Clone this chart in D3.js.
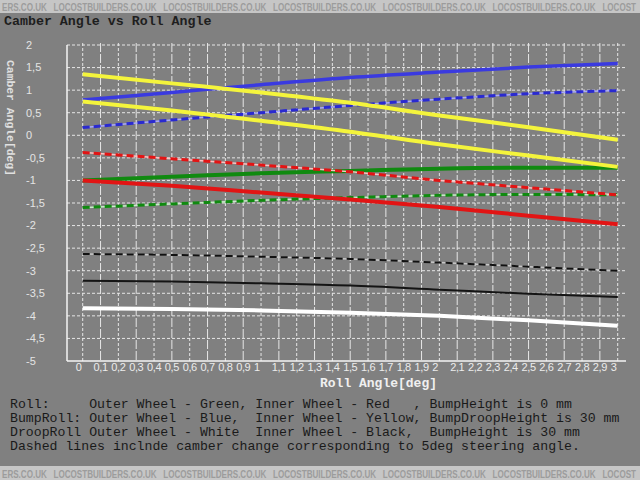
<!DOCTYPE html>
<html><head><meta charset="utf-8">
<script src="https://cdn.jsdelivr.net/npm/d3@7"></script>
<style>html,body{margin:0;padding:0;background:#808080;}svg{display:block;}</style>
</head><body>
<script>
// ---- data ----
const rollAngles = [0, 0.5, 1.0, 1.5, 2.0, 2.5, 3.0];
const rollOuterGreen        = [-1.00, -0.92, -0.84, -0.79, -0.74, -0.72, -0.72];
const rollOuterGreenDashed  = [-1.60, -1.52, -1.44, -1.38, -1.33, -1.31, -1.32];
const rollInnerRed          = [-1.00, -1.12, -1.27, -1.42, -1.59, -1.78, -1.97];
const rollInnerRedDashed    = [-0.38, -0.52, -0.66, -0.81, -1.00, -1.16, -1.32];
const bumpOuterBlue         = [0.78, 0.95, 1.12, 1.28, 1.40, 1.51, 1.59];
const bumpOuterBlueDashed   = [0.17, 0.34, 0.50, 0.66, 0.80, 0.92, 0.99];
const bumpInnerYellow       = [1.35, 1.15, 0.95, 0.72, 0.44, 0.18, -0.10];
const bumpInnerYellow2      = [0.75, 0.55, 0.32, 0.08, -0.20, -0.45, -0.70];
const droopInnerBlackDashed = [-2.63, -2.65, -2.69, -2.74, -2.82, -2.91, -3.00];
const droopInnerBlack       = [-3.22, -3.24, -3.28, -3.33, -3.42, -3.51, -3.58];
const droopOuterWhite       = [-3.83, -3.85, -3.88, -3.93, -4.00, -4.10, -4.22];

const xTickValues = d3.range(0, 31).map(i => i / 10);
const xTickLabels = ["0","0,1","0,2","0,3","0,4","0,5","0,6","0,7","0,8","0,9","1",
  "1,1","1,2","1,3","1,4","1,5","1,6","1,7","1,8","1,9","2",
  "2,1","2,2","2,3","2,4","2,5","2,6","2,7","2,8","2,9","3"];
const yTickValues = [2,1.5,1,0.5,0,-0.5,-1,-1.5,-2,-2.5,-3,-3.5,-4,-4.5,-5];
const yTickLabels = ["2","1,5","1","0,5","0","-0,5","-1","-1,5","-2","-2,5","-3","-3,5","-4","-4,5","-5"];

const legendLines = [
  "Roll:     Outer Wheel - Green, Inner Wheel - Red   , BumpHeight is 0 mm",
  "BumpRoll: Outer Wheel - Blue,  Inner Wheel - Yellow, BumpDroopHeight is 30 mm",
  "DroopRoll Outer Wheel - White  Inner Wheel - Black,  BumpHeight is 30 mm",
  "Dashed lines inclnde camber change corresponding to 5deg steering angle."
];
const watermark = "ERS.CO.UK   LOCOSTBUILDERS.CO.UK   LOCOSTBUILDERS.CO.UK   LOCOSTBUILDERS.CO.UK   LOCOSTBUILDERS.CO.UK   LOCOSTBUILDERS.CO.UK   LOCOST";

const series = [
  {values: droopOuterWhite, color: "#ffffff", w: 4, dashed: false},
  {values: droopInnerBlack, color: "#141414", w: 2, dashed: false},
  {values: droopInnerBlackDashed, color: "#111111", w: 2, dashed: true, under: "#c8c8c8"},
  {values: rollOuterGreenDashed, color: "#108a10", w: 3, dashed: true, under: "#c8f0c8"},
  {values: rollOuterGreen, color: "#108a10", w: 4, dashed: false},
  {values: rollInnerRedDashed, color: "#e21414", w: 3, dashed: true, under: "#ffc0c0"},
  {values: rollInnerRed, color: "#e21414", w: 4, dashed: false},
  {values: bumpOuterBlueDashed, color: "#2a2ad0", w: 3, dashed: true, under: "#a8a8ff"},
  {values: bumpOuterBlue, color: "#3a3ae0", w: 3.5, dashed: false},
  {values: bumpInnerYellow2, color: "#f4f43c", w: 4, dashed: false},
  {values: bumpInnerYellow, color: "#f4f43c", w: 4, dashed: false}
];

// ---- layout ----
const W = 640, H = 480;
const svg = d3.select("body").append("svg").attr("width", W).attr("height", H);
svg.append("rect").attr("width", W).attr("height", H).attr("fill", "#808080");

const x = d3.scaleLinear().domain([0, 3]).range([82.7, 617.7]);
const y = d3.scaleLinear().domain([-5, 2]).range([361, 45]);
const axisLeftX = 67, gridRight = 626;

// watermark bands
function band(y0, h, ty) {
  svg.append("rect").attr("x", 0).attr("y", y0).attr("width", W).attr("height", h).attr("fill", "#c6c6c6");
  svg.append("text").attr("x", 2).attr("y", ty)
    .attr("font-family", "'Liberation Sans Narrow','Liberation Sans',Arial,sans-serif")
    .attr("font-weight", "bold").attr("font-size", 10.5)
    .attr("textLength", 634).attr("lengthAdjust", "spacingAndGlyphs")
    .attr("fill", "#9c9c9c").style("white-space", "pre").text(watermark);
}
band(0, 13, 11);
band(466, 14, 478);

// title
svg.append("text").attr("x", 4).attr("y", 25)
  .attr("font-family", "'Liberation Mono','DejaVu Sans Mono',monospace")
  .attr("font-weight", "bold").attr("font-size", 13.3).attr("fill", "#1e1e1e")
  .text("Camber Angle vs Roll Angle");

// grid
const g = svg.append("g");
g.selectAll(".hg").data(yTickValues.filter(v => v > -5)).enter().append("line")
  .attr("x1", axisLeftX).attr("x2", gridRight)
  .attr("y1", d => y(d)).attr("y2", d => y(d))
  .attr("stroke", "#e6e6e6").attr("stroke-width", 1).attr("stroke-dasharray", "3,2");
g.selectAll(".vg").data(xTickValues).enter().append("line")
  .attr("x1", d => x(d)).attr("x2", d => x(d))
  .attr("y1", 43).attr("y2", 361)
  .attr("stroke", "#e6e6e6").attr("stroke-width", 1)
  .attr("stroke-dasharray", (d, i) => i % 2 ? "9,2" : "3,2");

// axes lines
svg.append("line").attr("x1", axisLeftX).attr("x2", axisLeftX).attr("y1", 45).attr("y2", 361)
  .attr("stroke", "#f4f4f4").attr("stroke-width", 1.5);
svg.append("line").attr("x1", axisLeftX).attr("x2", gridRight).attr("y1", 361).attr("y2", 361)
  .attr("stroke", "#f4f4f4").attr("stroke-width", 1.5);

// y tick labels
svg.selectAll(".yl").data(yTickValues).enter().append("text")
  .attr("x", 26).attr("y", d => y(d)).attr("dy", "0.35em")
  .attr("font-family", "'Liberation Sans',Arial,sans-serif").attr("font-size", 11)
  .attr("fill", "#e4e4e4").text((d, i) => yTickLabels[i]);

// x tick labels
svg.selectAll(".xl").data(xTickValues).enter().append("text")
  .attr("x", d => x(d) - 7).attr("y", 371)
  .attr("font-family", "'Liberation Sans',Arial,sans-serif").attr("font-size", 11)
  .attr("letter-spacing", -0.4)
  .attr("fill", "#ececec").text((d, i) => xTickLabels[i]);

// axis titles
svg.append("text").attr("x", 320).attr("y", 387)
  .attr("font-family", "'Liberation Mono','DejaVu Sans Mono',monospace")
  .attr("font-weight", "bold").attr("font-size", 13).attr("fill", "#f0f0f0")
  .attr("textLength", 117).attr("lengthAdjust", "spacingAndGlyphs")
  .text("Roll Angle[deg]");
svg.append("text").attr("transform", "translate(7,60) rotate(90)")
  .attr("font-family", "'Liberation Mono','DejaVu Sans Mono',monospace")
  .attr("font-weight", "bold").attr("font-size", 11.5).attr("fill", "#e0e0e0")
  .attr("textLength", 116).attr("lengthAdjust", "spacingAndGlyphs")
  .text("Camber Angle[deg]");

// lines
const line = d3.line().x((d, i) => x(rollAngles[i])).y(d => y(d)).curve(d3.curveMonotoneX);
const lg = svg.append("g").attr("fill", "none");
series.forEach(s => {
  if (s.under) {
    lg.append("path").attr("d", line(s.values)).attr("stroke", s.under)
      .attr("stroke-width", 1.5).attr("fill", "none");
  }
  lg.append("path").attr("d", line(s.values)).attr("stroke", s.color)
    .attr("stroke-width", s.w)
    .attr("stroke-dasharray", s.dashed ? "7,4" : null).attr("fill", "none");
});

// legend text
svg.selectAll(".lgt").data(legendLines).enter().append("text")
  .attr("x", 10).attr("y", (d, i) => 408 + i * 14)
  .attr("font-family", "'Liberation Mono','DejaVu Sans Mono',monospace")
  .attr("font-size", 13.2).attr("fill", "#1a1a1a")
  .style("white-space", "pre").attr("xml:space", "preserve")
  .text(d => d);
</script>
</body></html>
